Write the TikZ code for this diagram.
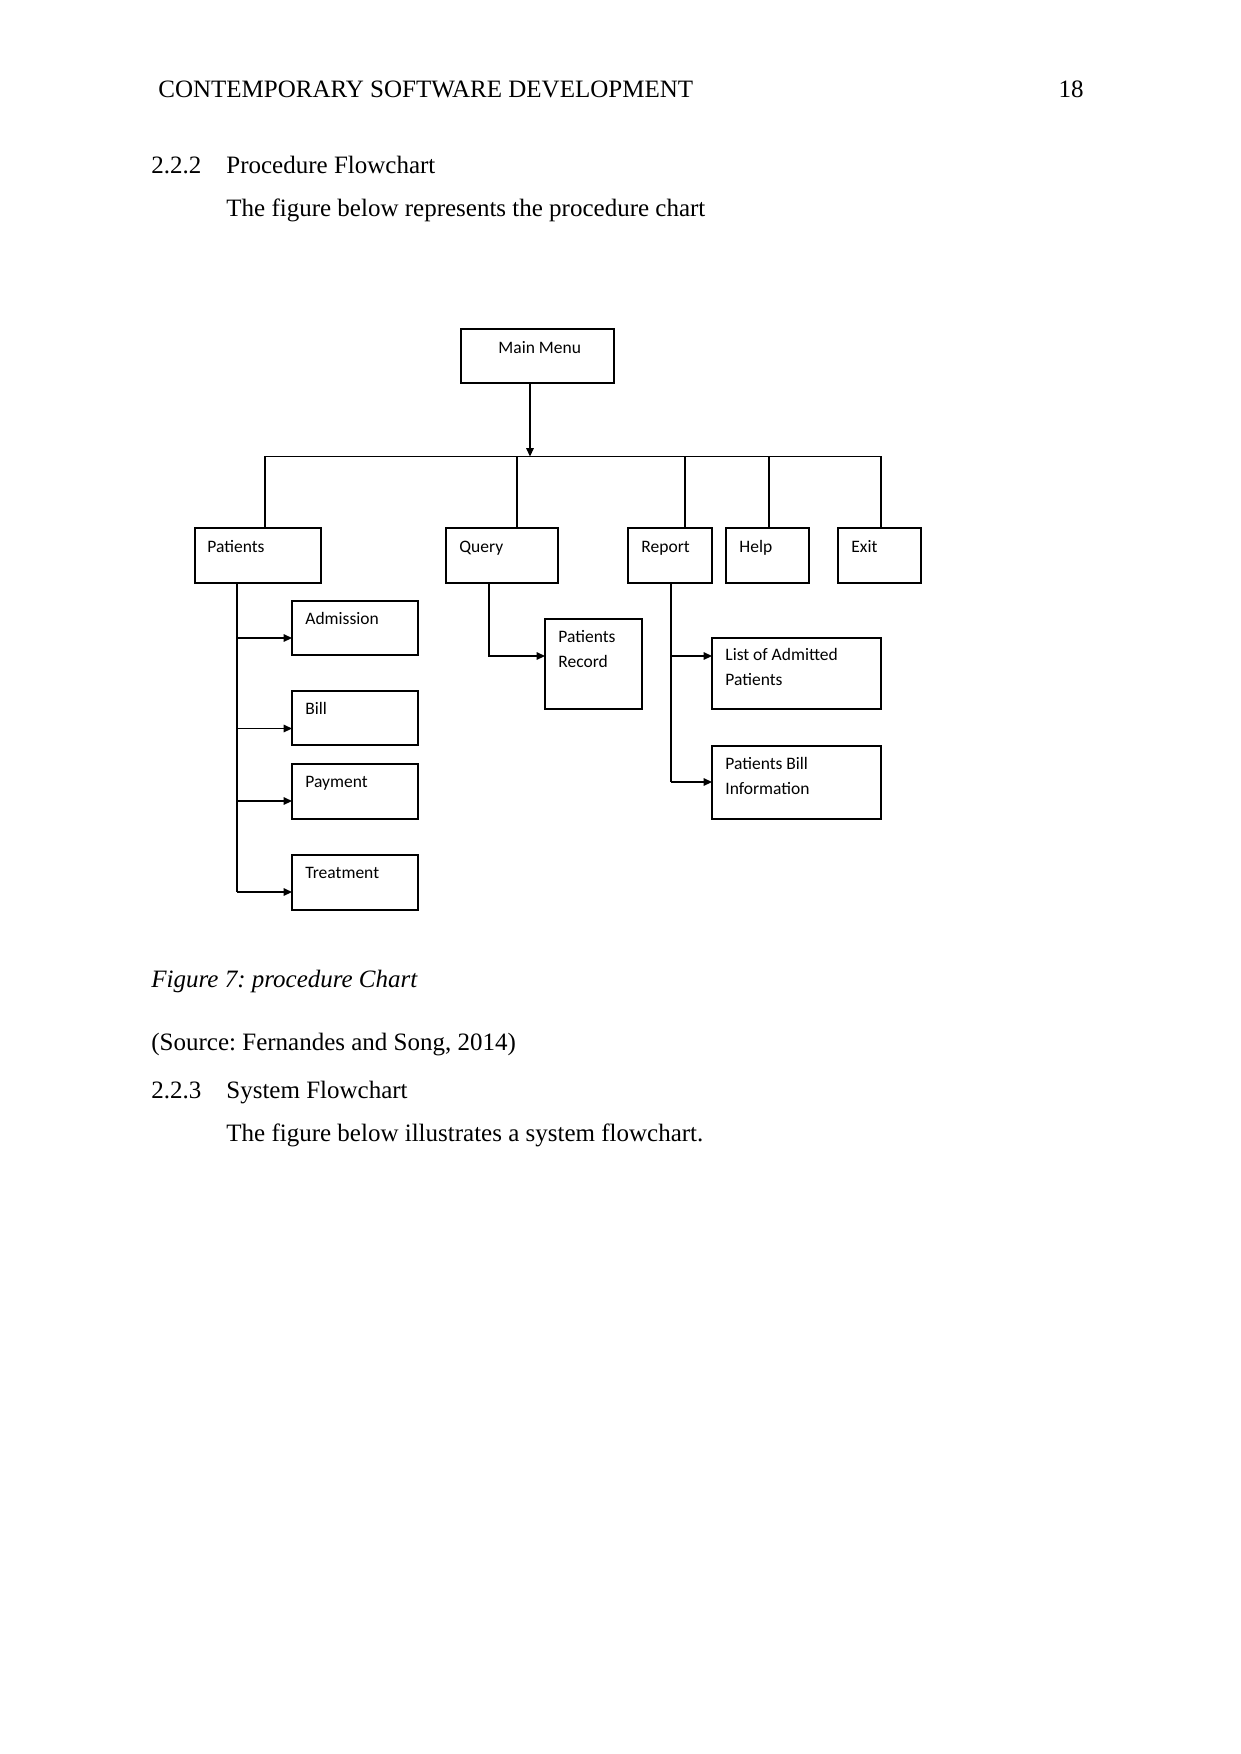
\documentclass[tikz,border=0pt]{standalone}
\usepackage{fontspec}
\setmainfont{Liberation Serif}
\newfontfamily\boxfont{Carlito}
\usetikzlibrary{arrows.meta}
\frenchspacing
\newcommand{\bx}[5]{\node[box, minimum width={(#4-#2)*0.48pt}, minimum height={(#5-#3)*0.48pt}] (#1) at (#2,#3) {};}
\begin{document}
\begin{tikzpicture}[x=0.48pt,y=-0.48pt,
 box/.style={draw, line width=0.55pt, anchor=north west, inner sep=0pt, outer sep=0pt},
 lbl/.style={anchor=base west, inner sep=0pt, font=\boxfont\fontsize{8.4}{10}\selectfont},
 body/.style={anchor=base west, inner sep=0pt, font=\fontsize{12}{14}\selectfont\frenchspacing},
 conn/.style={line width=0.6pt},
 arr/.style={conn, -{Triangle[length=4pt,width=3.6pt]}}]
\useasboundingbox (0,0) rectangle (1241,1754);
\fill[white] (0,0) rectangle (1241,1754);

% page text
\node[body] (hdr) at (158,97) {CONTEMPORARY SOFTWARE DEVELOPMENT};
\node[body, anchor=base east] (pg) at (1084,97) {18};
\node[body] (s222) at (151,173) {2.2.2};
\node[body] (s222t) at (226,173) {Procedure Flowchart};
\node[body] (p1) at (226,216) {The figure below represents the procedure chart};
\node[body, font=\fontsize{12}{14}\selectfont\itshape\frenchspacing] (cap) at (151,987) {Figure 7: procedure Chart};
\node[body] (src) at (151,1050) {(Source: Fernandes and Song, 2014)};
\node[body] (s223) at (151,1098) {2.2.3};
\node[body] (s223t) at (226,1098) {System Flowchart};
\node[body] (p2) at (226,1141) {The figure below illustrates a system flowchart.};

% boxes
\bx{main}{461}{329}{614}{383}
\bx{pat}{195}{528}{321}{583}
\bx{qry}{446}{528}{558}{583}
\bx{rep}{628}{528}{712}{583}
\bx{hlp}{726}{528}{809}{583}
\bx{ext}{838}{528}{921}{583}
\bx{adm}{292}{601}{418}{655}
\bx{bill}{292}{691}{418}{745}
\bx{pay}{292}{764}{418}{819}
\bx{trt}{292}{855}{418}{910}
\bx{rec}{545}{619}{642}{709}
\bx{lst}{712}{638}{881}{709}
\bx{pbi}{712}{746}{881}{819}

% labels
\node[lbl] (tmain) at (498,353) {Main Menu};
\node[lbl] (tpat) at ([shift={(12,24)}]pat.north west) {Patients};
\node[lbl] (tqry) at ([shift={(13,24)}]qry.north west) {Query};
\node[lbl] (trep) at ([shift={(13,24)}]rep.north west) {Report};
\node[lbl] (thlp) at ([shift={(13,24)}]hlp.north west) {Help};
\node[lbl] (text) at ([shift={(13,24)}]ext.north west) {Exit};
\node[lbl] (tadm) at ([shift={(13,23)}]adm.north west) {Admission};
\node[lbl] (tbill) at ([shift={(13,23)}]bill.north west) {Bill};
\node[lbl] (tpay) at ([shift={(13,23)}]pay.north west) {Payment};
\node[lbl] (ttrt) at ([shift={(13,23)}]trt.north west) {Treatment};
\node[lbl] (trec1) at ([shift={(13,23)}]rec.north west) {Patients};
\node[lbl] (trec2) at ([shift={(13,48)}]rec.north west) {Record};
\node[lbl] (tlst1) at ([shift={(13,22)}]lst.north west) {List of Admitted};
\node[lbl] (tlst2) at ([shift={(13,47)}]lst.north west) {Patients};
\node[lbl] (tpbi1) at ([shift={(13,23)}]pbi.north west) {Patients Bill};
\node[lbl] (tpbi2) at ([shift={(13,48)}]pbi.north west) {Information};

% bus
\coordinate (bm) at (530,456.5);
\coordinate (b1) at (265,456.5);
\coordinate (b2) at (517,456.5);
\coordinate (b3) at (685,456.5);
\coordinate (b4) at (769,456.5);
\coordinate (b5) at (881,456.5);
\draw[arr] (main.south -| bm) -- (bm);
\draw[conn] (b1 |- pat.north) -- (b1) -- (b5) -- (b5 |- ext.north);
\draw[conn] (b2) -- (b2 |- qry.north);
\draw[conn] (b3) -- (b3 |- rep.north);
\draw[conn] (b4) -- (b4 |- hlp.north);

% patients branch
\coordinate (pa1) at (237,638);
\coordinate (pa2) at (237,728.5);
\coordinate (pa3) at (237,801);
\coordinate (pa4) at (237,892);
\draw[conn] (pat.south -| pa1) -- (pa4);
\draw[arr] (pa1) -- (pa1 -| adm.west);
\draw[arr] (pa2) -- (pa2 -| bill.west);
\draw[arr] (pa3) -- (pa3 -| pay.west);
\draw[arr] (pa4) -- (pa4 -| trt.west);

% query branch
\coordinate (q1) at (489,656);
\draw[arr] (qry.south -| q1) -- (q1) -- (q1 -| rec.west);

% report branch
\coordinate (r1) at (671,656);
\coordinate (r2) at (671,782);
\draw[conn] (rep.south -| r1) -- (r2);
\draw[arr] (r1) -- (r1 -| lst.west);
\draw[arr] (r2) -- (r2 -| pbi.west);
\end{tikzpicture}
\end{document}
